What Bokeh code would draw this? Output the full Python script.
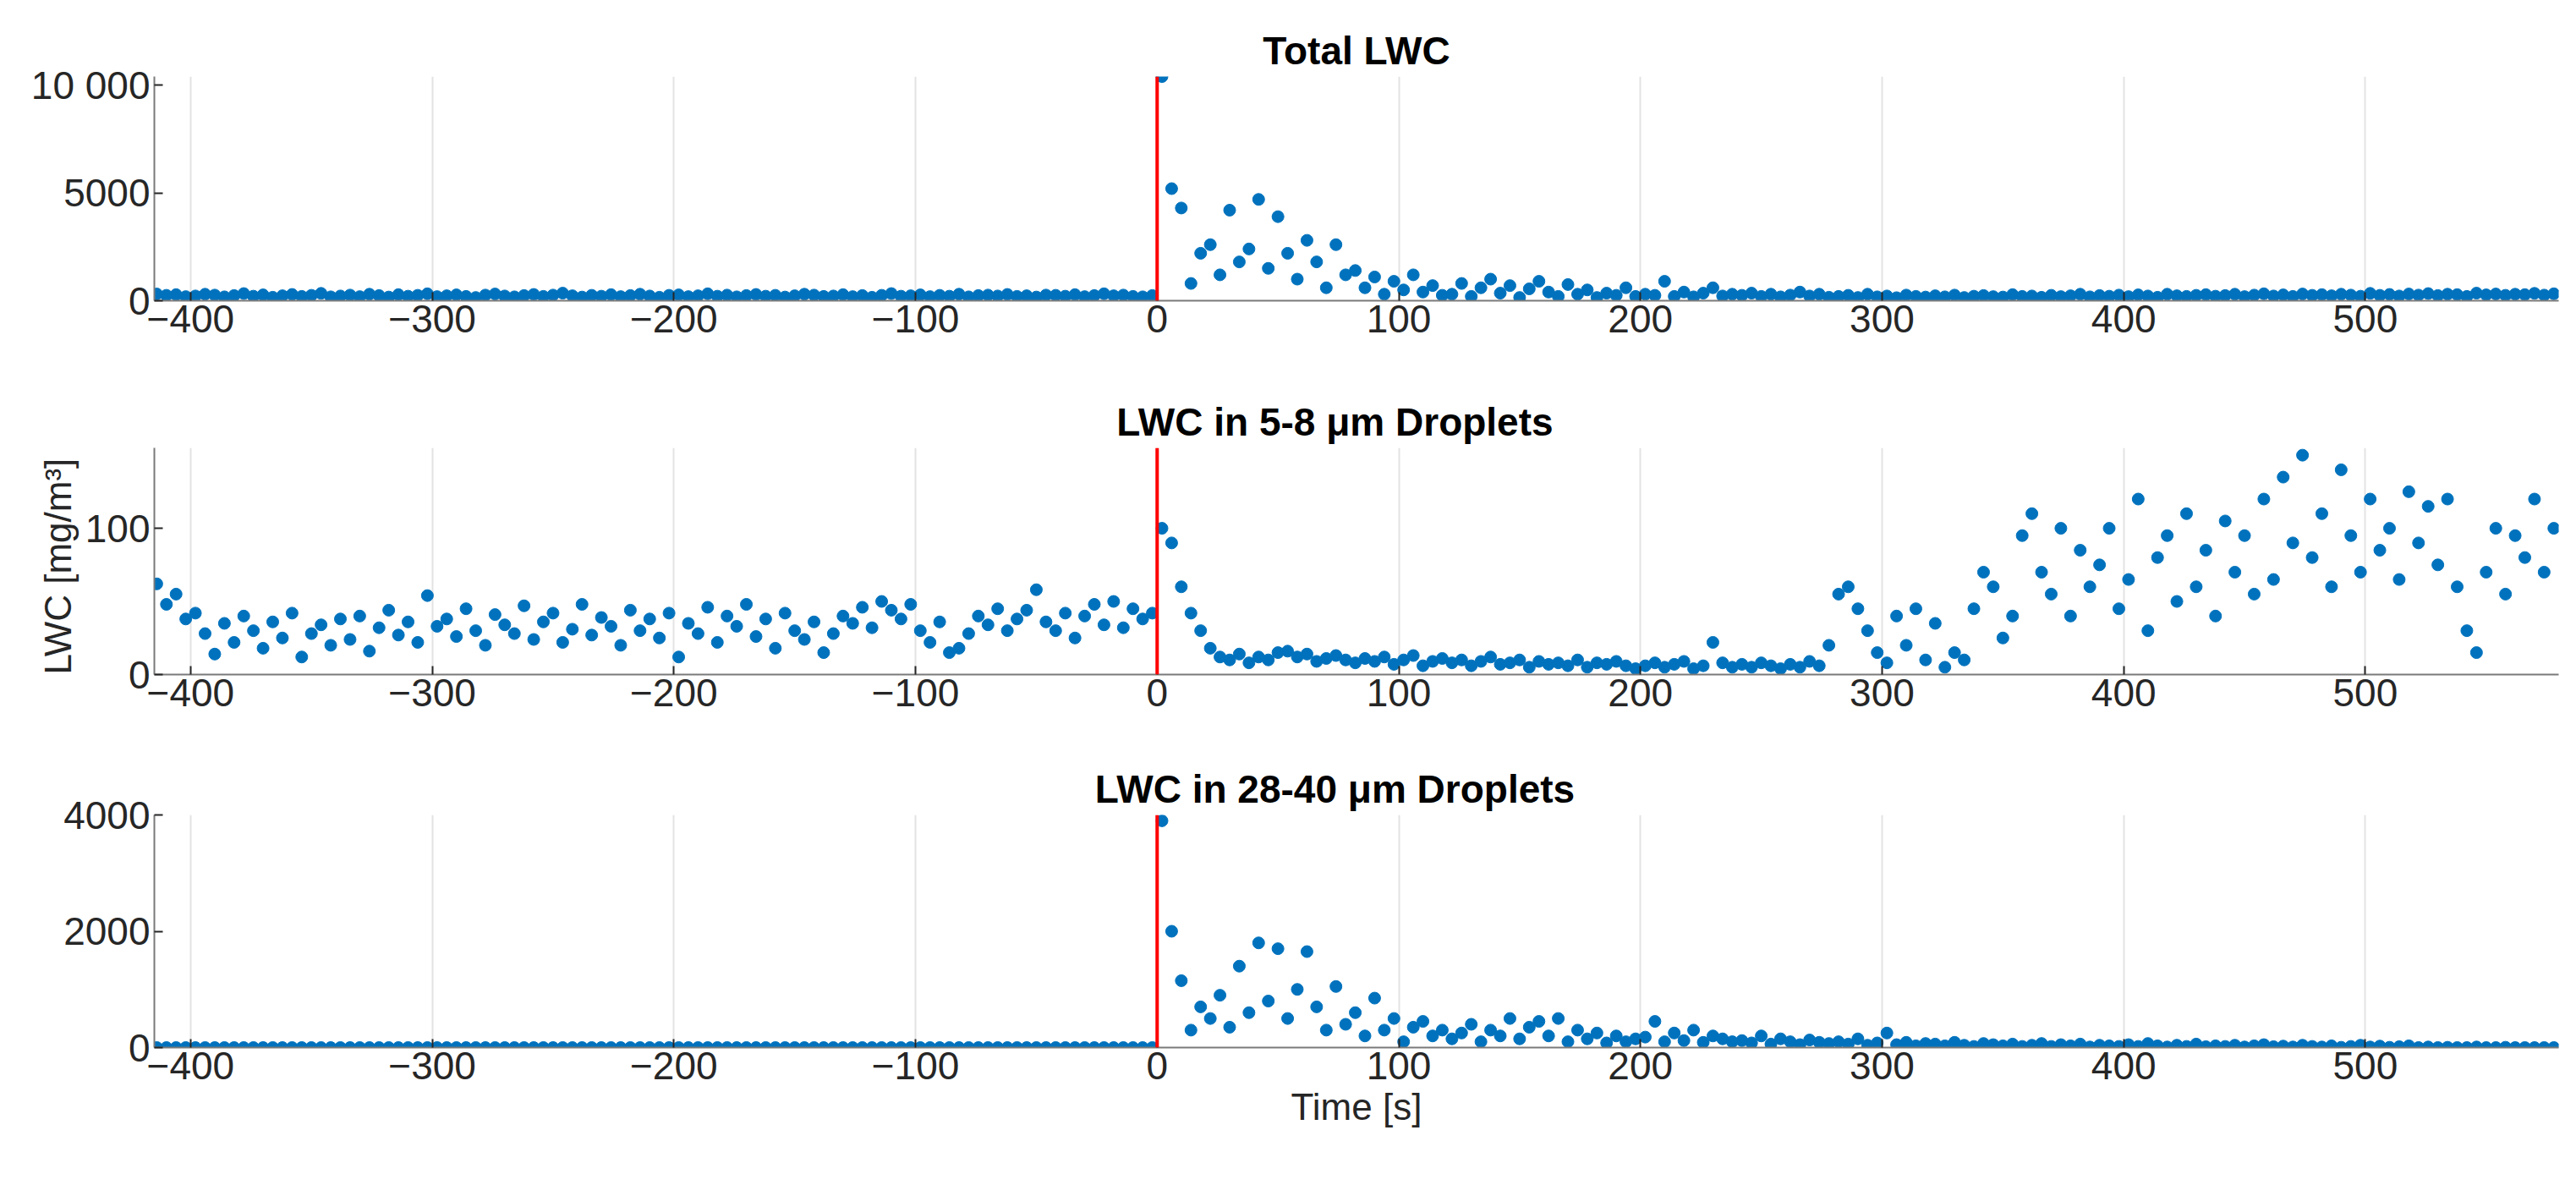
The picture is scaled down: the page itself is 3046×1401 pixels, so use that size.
from bokeh.plotting import figure
from bokeh.layouts import column
from bokeh.models import FixedTicker, Span
from bokeh.embed import file_html
from bokeh.resources import INLINE
import numpy as np

# time axis, one sample every 4 s
t = np.arange(-414, 580, 4)

# Total LWC
total_pre = [310,250,280,190,220,300,260,180,240,330,
             210,270,160,230,290,200,250,340,180,220,
             260,190,300,240,170,280,210,250,320,190,
             230,270,200,150,260,310,220,180,240,290,
             200,260,350,230,170,250,210,280,190,240,
             300,220,160,250,270,190,230,320,210,260,
             180,240,290,210,250,170,230,300,260,200,
             220,280,190,240,160,250,330,210,230,270,
             190,250,210,300,180,240,260,220,290,200,
             230,170,260,250,210,280,190,240,320,230,
             260,200,180,240]
total_post = [10400,5200,4300,800,2200,2600,1200,4200,1800,2400,
              4700,1500,3900,2200,1000,2800,1800,600,2600,1200,
              1400,600,1100,300,900,500,1200,400,700,250,
              300,800,200,600,1000,350,700,150,550,900,
              400,200,750,300,500,150,350,250,600,200,
              300,250,900,200,400,180,350,600,220,300,
              250,350,200,300,180,260,400,220,300,160,
              200,250,150,300,180,220,140,260,200,170,
              230,180,260,150,210,240,190,170,280,200,
              220,160,250,190,230,300,180,240,210,260,
              190,270,220,160,300,230,200,250,280,210,
              240,300,190,260,320,220,270,200,310,250,
              280,230,300,260,210,340,250,290,220,310,
              260,330,240,300,280,200,350,270,310,250,
              300,280,340,260,320]

# LWC in 5-8 um droplets
small_pre = [62,48,55,38,42,28,14,35,22,40,
             30,18,36,25,42,12,28,34,20,38,
             24,40,16,32,44,27,36,22,54,33,
             38,26,45,30,20,41,34,28,47,24,
             36,42,22,31,48,27,39,33,20,44,
             30,38,25,42,12,35,28,46,22,40,
             33,48,26,38,18,42,30,24,36,15,
             28,40,35,46,32,50,44,38,48,30,
             22,36,15,18,28,40,34,45,30,38,
             44,58,36,30,42,25,40,48,34,50,
             32,45,38,42]
small_post = [100,90,60,42,30,18,12,10,14,8,
              12,10,15,16,12,14,9,11,13,10,
              8,11,9,12,7,10,13,6,9,11,
              8,10,6,9,12,7,8,10,5,9,
              7,8,6,10,5,8,7,9,6,4,
              6,8,5,7,9,4,6,22,8,5,
              7,5,8,6,4,7,5,9,6,20,
              55,60,45,30,15,8,40,20,45,10,
              35,5,15,10,45,70,60,25,40,95,
              110,70,55,100,40,85,60,75,100,45,
              65,120,30,80,95,50,110,60,85,40,
              105,70,95,55,120,65,135,90,150,80,
              110,60,140,95,70,120,85,100,65,125,
              90,115,75,120,60,30,15,70,100,55,
              95,80,120,70,100]

# LWC in 28-40 um droplets
large_pre = [0] * 104
large_post = [3900,2000,1150,300,700,500,900,350,1400,600,
              1800,800,1700,500,1000,1650,700,300,1050,400,
              600,200,850,300,500,100,350,450,200,300,
              150,250,400,100,300,200,500,150,350,450,
              200,500,100,300,150,250,80,200,100,150,
              180,450,100,250,120,300,90,200,150,100,
              120,80,200,60,150,100,50,130,90,70,
              100,60,150,40,80,250,50,90,30,70,
              60,30,90,40,20,70,50,30,60,20,
              40,70,20,50,30,60,10,40,30,20,
              50,20,70,30,10,40,20,60,15,30,
              20,40,10,30,50,15,25,10,40,20,
              10,30,5,20,40,10,25,5,15,30,
              0,10,0,5,0,0,10,0,0,5,
              0,0,0,0,0]

FONT = "Liberation Sans"
BLUE = "#0072BD"


def panel(title, y, ymax, yticks, overrides, top, fh, bottom):
    p = figure(output_backend="svg", toolbar_location=None,
               frame_width=2843, frame_height=fh,
               min_border_left=182, min_border_right=10,
               min_border_top=top, min_border_bottom=bottom,
               x_range=(-415, 580), y_range=(0, ymax), title=title)
    p.title.text_font = FONT
    p.title.text_font_size = "46px"
    p.title.text_font_style = "bold"
    p.title.align = "center"
    p.title.text_color = "#000000"
    p.outline_line_color = None
    p.ygrid.grid_line_color = None
    p.xgrid.grid_line_color = "#e3e3e3"
    p.xgrid.grid_line_width = 2
    p.xaxis.ticker = FixedTicker(ticks=list(range(-400, 600, 100)))
    p.yaxis.ticker = FixedTicker(ticks=yticks)
    p.yaxis.major_label_overrides = overrides
    for ax in (p.xaxis[0], p.yaxis[0]):
        ax.axis_line_color = "#7a7a7a"
        ax.axis_line_width = 2
        ax.major_tick_in = 10
        ax.major_tick_out = 0
        ax.major_tick_line_color = "#262626"
        ax.major_tick_line_width = 2
        ax.minor_tick_line_color = None
        ax.major_label_text_font = FONT
        ax.major_label_text_font_size = "46px"
        ax.major_label_text_color = "#262626"
        ax.axis_label_text_font = FONT
        ax.axis_label_text_font_size = "44px"
        ax.axis_label_text_font_style = "normal"
        ax.axis_label_text_color = "#262626"
    p.add_layout(Span(location=0, dimension="height", line_color="red", line_width=4))
    p.scatter(t, y, size=14, color=BLUE, line_color=BLUE)
    return p


p1 = panel("Total LWC", total_pre + total_post, 10400, [0, 5000, 10000],
           {10000: "10 000"}, 90, 265, 85)
p2 = panel("LWC  in  5-8  μm  Droplets", small_pre + small_post, 155, [0, 100],
           {}, 89, 268, 83)
p2.yaxis.axis_label = "LWC  [mg/m³]"
p3 = panel("LWC  in  28-40  μm  Droplets", large_pre + large_post, 4000, [0, 2000, 4000],
           {}, 83, 275, 115)
p3.xaxis.axis_label = "Time [s]"

layout = column(p1, p2, p3, spacing=0)
open("out.html", "w").write(file_html(layout, INLINE))
